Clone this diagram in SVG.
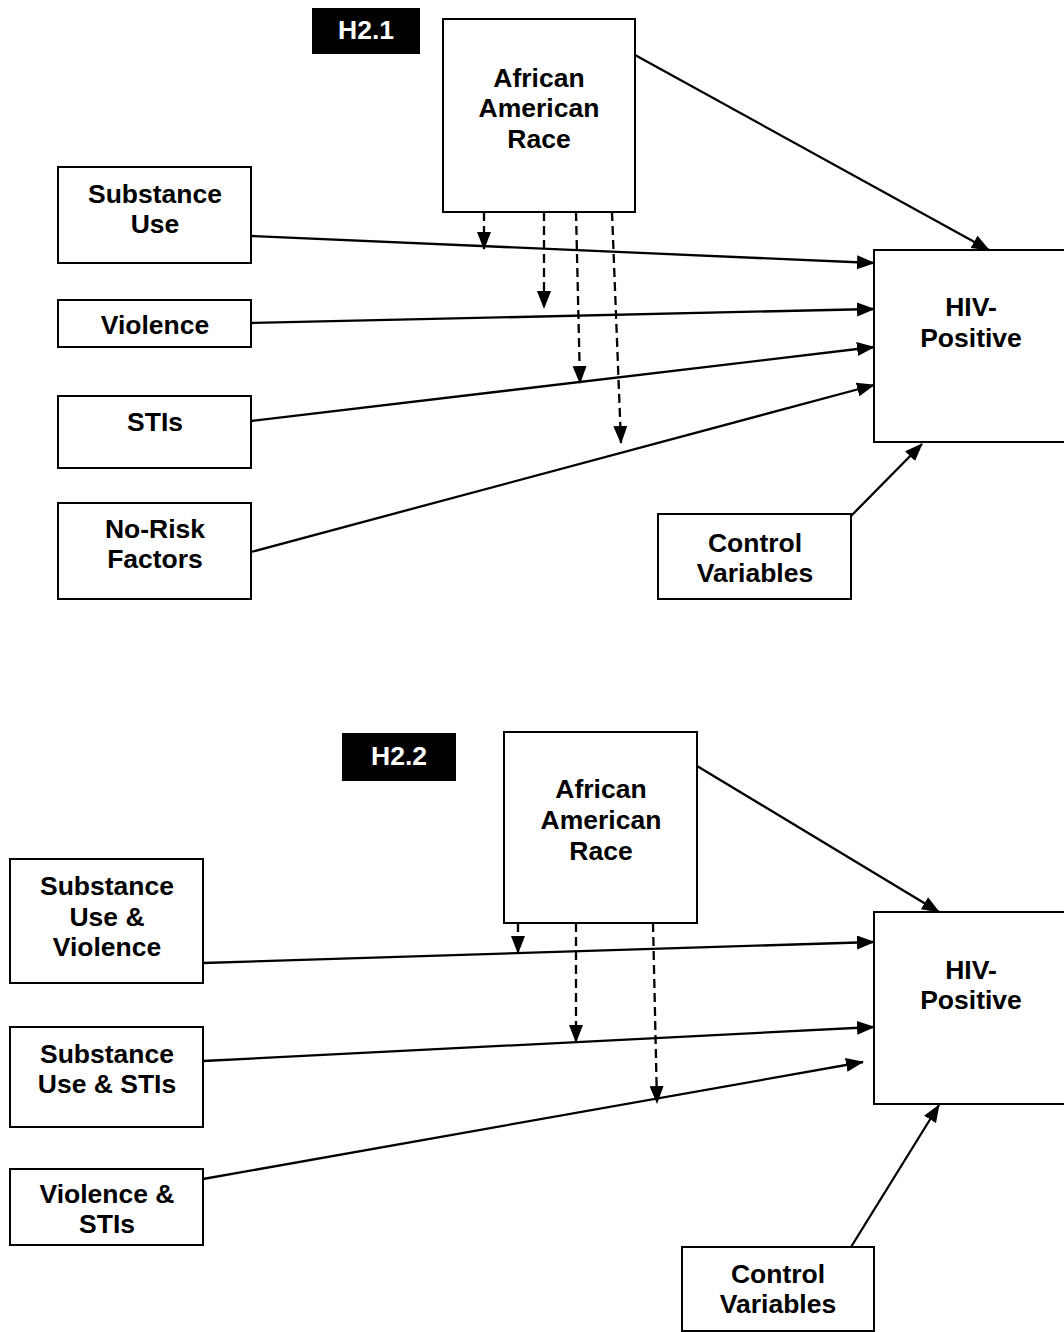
<svg xmlns="http://www.w3.org/2000/svg" width="1064" height="1332" viewBox="0 0 1064 1332">
<style>
.box{fill:#fff;stroke:#000;stroke-width:2}
.lbl{fill:#000;stroke:none}
text{font-family:"Liberation Sans",Arial,sans-serif;font-weight:bold;font-size:26.5px;text-anchor:middle;fill:#000}
.w{fill:#fff}
.c{stroke:#000;stroke-width:2.3;fill:none;marker-end:url(#ah)}
.d{stroke-dasharray:9 5}
</style>
<defs>
<marker id="ah" markerUnits="userSpaceOnUse" markerWidth="18" markerHeight="15" refX="17" refY="7" orient="auto">
<path d="M0,0 L18,7 L0,14 z" fill="#000"/>
</marker>
</defs>
<rect width="1064" height="1332" fill="#fff"/>

<g id="connectors">
<line class="c" x1="251" y1="236" x2="874" y2="263"/>
<line class="c" x1="251" y1="323" x2="874" y2="309"/>
<line class="c" x1="251" y1="421" x2="874" y2="347"/>
<line class="c" x1="251" y1="552" x2="874" y2="385"/>
<line class="c" x1="635" y1="55" x2="989" y2="250"/>
<line class="c" x1="851" y1="516" x2="922" y2="444"/>
<line class="c d" x1="484" y1="212" x2="484" y2="249"/>
<line class="c d" x1="544" y1="212" x2="544" y2="308"/>
<line class="c d" x1="576" y1="212" x2="580" y2="383"/>
<line class="c d" x1="612" y1="212" x2="621" y2="443"/>

<line class="c" x1="203" y1="963" x2="874" y2="942"/>
<line class="c" x1="203" y1="1061" x2="874" y2="1027"/>
<line class="c" x1="203" y1="1179" x2="863" y2="1062"/>
<line class="c" x1="697" y1="766" x2="939" y2="912"/>
<line class="c" x1="851" y1="1247" x2="939" y2="1105"/>
<line class="c d" x1="518" y1="923" x2="518" y2="953"/>
<line class="c d" x1="576" y1="923" x2="576" y2="1042"/>
<line class="c d" x1="653" y1="923" x2="657" y2="1103"/>
</g>

<g id="h21">
<rect class="lbl" x="312" y="8" width="108" height="46"/>
<text class="w" x="366" y="39">H2.1</text>
</g>
<g id="aa1">
<rect class="box" x="443" y="19" width="192" height="193"/>
<text x="539" y="87">African</text>
<text x="539" y="117">American</text>
<text x="539" y="148">Race</text>
</g>
<g id="su1">
<rect class="box" x="58" y="167" width="193" height="96"/>
<text x="155" y="203">Substance</text>
<text x="155" y="233">Use</text>
</g>
<g id="v1">
<rect class="box" x="58" y="300" width="193" height="47"/>
<text x="155" y="334">Violence</text>
</g>
<g id="sti1">
<rect class="box" x="58" y="396" width="193" height="72"/>
<text x="155" y="431">STIs</text>
</g>
<g id="nr1">
<rect class="box" x="58" y="503" width="193" height="96"/>
<text x="155" y="538">No-Risk</text>
<text x="155" y="568">Factors</text>
</g>
<g id="hiv1">
<rect class="box" x="874" y="250" width="194" height="192"/>
<text x="971" y="316">HIV-</text>
<text x="971" y="347">Positive</text>
</g>
<g id="cv1">
<rect class="box" x="658" y="514" width="193" height="85"/>
<text x="755" y="552">Control</text>
<text x="755" y="582">Variables</text>
</g>

<g id="h22">
<rect class="lbl" x="342" y="733" width="114" height="48"/>
<text class="w" x="399" y="765">H2.2</text>
</g>
<g id="aa2">
<rect class="box" x="504" y="732" width="193" height="191"/>
<text x="601" y="798">African</text>
<text x="601" y="829">American</text>
<text x="601" y="860">Race</text>
</g>
<g id="suv2">
<rect class="box" x="10" y="859" width="193" height="124"/>
<text x="107" y="895">Substance</text>
<text x="107" y="926">Use &amp;</text>
<text x="107" y="956">Violence</text>
</g>
<g id="sus2">
<rect class="box" x="10" y="1027" width="193" height="100"/>
<text x="107" y="1063">Substance</text>
<text x="107" y="1093">Use &amp; STIs</text>
</g>
<g id="vs2">
<rect class="box" x="10" y="1169" width="193" height="76"/>
<text x="107" y="1203">Violence &amp;</text>
<text x="107" y="1233">STIs</text>
</g>
<g id="hiv2">
<rect class="box" x="874" y="912" width="194" height="192"/>
<text x="971" y="979">HIV-</text>
<text x="971" y="1009">Positive</text>
</g>
<g id="cv2">
<rect class="box" x="682" y="1247" width="192" height="84"/>
<text x="778" y="1283">Control</text>
<text x="778" y="1313">Variables</text>
</g>
</svg>
